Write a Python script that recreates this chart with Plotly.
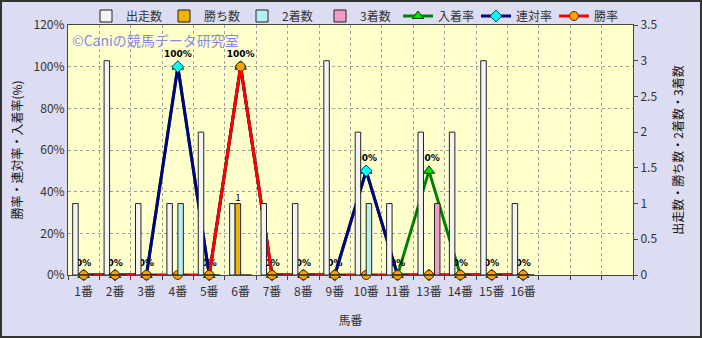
import plotly.graph_objects as go

# ---- data ----
categories = ["1番", "2番", "3番", "4番", "5番", "6番", "7番", "8番",
              "9番", "10番", "11番", "13番", "14番", "15番", "16番"]
padding_categories = [" ", "  ", "   "]
starts = [1, 3, 1, 1, 2, 1, 1, 1, 3, 2, 1, 2, 2, 3, 1]          # 出走数
wins = [0, 0, 0, 0, 0, 1, 0, 0, 0, 0, 0, 0, 0, 0, 0]            # 勝ち数
seconds = [0, 0, 0, 1, 0, 0, 0, 0, 0, 1, 0, 0, 0, 0, 0]         # 2着数
thirds = [0, 0, 0, 0, 0, 0, 0, 0, 0, 0, 0, 1, 0, 0, 0]          # 3着数
place_rate = [0, 0, 0, 100, 0, 100, 0, 0, 0, 50, 0, 50, 0, 0, 0]  # 入着率
quinella_rate = [0, 0, 0, 100, 0, 100, 0, 0, 0, 50, 0, 0, 0, 0, 0]  # 連対率
win_rate = [0, 0, 0, 0, 0, 100, 0, 0, 0, 0, 0, 0, 0, 0, 0]     # 勝率

FONT = "Noto Sans CJK JP"
fig = go.Figure()

bar_style = dict(marker_line_color="#222222", marker_line_width=1, yaxis="y2")
fig.add_trace(go.Bar(name="出走数", x=categories, y=starts,
                     marker_color="#f4f4f4", **bar_style))
fig.add_trace(go.Bar(name="勝ち数", x=categories, y=wins,
                     marker_color="#f0b400",
                     text=[str(v) if v else "" for v in wins],
                     textposition="outside", cliponaxis=False,
                     textfont=dict(size=11, color="#000000", family=FONT),
                     **bar_style))
fig.add_trace(go.Bar(name="2着数", x=categories, y=seconds,
                     marker_color="#b8eef0", **bar_style))
fig.add_trace(go.Bar(name="3着数", x=categories, y=thirds,
                     marker_color="#f09cc8", **bar_style))

fig.add_trace(go.Scatter(name="入着率", x=categories, y=place_rate,
                         mode="lines+markers+text",
                         line=dict(color="#008000", width=3),
                         marker=dict(symbol="triangle-up", size=10, color="#00e000",
                                     line=dict(color="#004000", width=1)),
                         text=[f"{v}%" for v in place_rate],
                         textposition="top center",
                         textfont=dict(size=9, color="#000000", family="DejaVu Sans",
                                       weight="bold"),
                         cliponaxis=False))
fig.add_trace(go.Scatter(name="連対率", x=categories, y=quinella_rate,
                         mode="lines+markers",
                         line=dict(color="#000080", width=3),
                         marker=dict(symbol="diamond", size=9, color="#00ffff",
                                     line=dict(color="#004040", width=1)),
                         cliponaxis=False))
fig.add_trace(go.Scatter(name="勝率", x=categories, y=win_rate,
                         mode="lines+markers",
                         line=dict(color="#ff0000", width=3),
                         marker=dict(symbol="circle", size=9, color="#ffa000",
                                     line=dict(color="#503000", width=1)),
                         cliponaxis=False))

W, H = 702, 338
L, R, T, B = 68, 69, 25, 63
pw, ph = W - L - R, H - T - B

fig.update_layout(
    width=W, height=H,
    margin=dict(l=L, r=R, t=T, b=B, autoexpand=False),
    paper_bgcolor="#dcdcf2",
    plot_bgcolor="#ffffcc",
    font=dict(family=FONT, size=12, color="#333333"),
    barmode="group", bargap=0.3, bargroupgap=0,
    showlegend=True,
    legend=dict(orientation="h", x=(86 - L) / pw, xanchor="left",
                y=1 + (T - 16) / ph, yanchor="middle",
                bgcolor="rgba(0,0,0,0)", entrywidth=33,
                font=dict(size=12, color="#333333", family=FONT),
                traceorder="normal", itemwidth=30),
    xaxis=dict(type="category", categoryorder="array",
               categoryarray=categories + padding_categories,
               range=[-0.5, len(categories) + len(padding_categories) - 0.5],
               tickson="boundaries", ticks="outside", ticklen=4, tickcolor="#444",
               tickangle=0, ticklabelstandoff=6,
               showgrid=True, gridcolor="#a0a0a0", griddash="dot", gridwidth=1,
               showline=True, linecolor="#444444", linewidth=1, mirror=True,
               title=dict(text="馬番", font=dict(size=12, color="#333333"), standoff=18),
               tickfont=dict(size=12, color="#333333")),
    yaxis=dict(range=[0, 120], dtick=20, ticksuffix="%",
               showgrid=True, gridcolor="#a0a0a0", griddash="dot", gridwidth=1,
               zeroline=False, showline=True, linecolor="#444444", linewidth=1,
               ticks="", tickfont=dict(size=12, color="#333333"),
               title=dict(text="勝率・連対率・入着率(%)",
                          font=dict(size=12, color="#111111"), standoff=8)),
    yaxis2=dict(range=[0, 3.5], dtick=0.5, overlaying="y", side="right",
                showgrid=False, zeroline=False, showline=True,
                linecolor="#444444", linewidth=1, ticks="outside", ticklen=4,
                tickcolor="#444444", tickfont=dict(size=12, color="#333333"),
                title=dict(text="出走数・勝ち数・2着数・3着数",
                           font=dict(size=12, color="#111111"), standoff=18)),
    annotations=[dict(text="©Caniの競馬データ研究室", xref="paper", yref="paper",
                      x=(70 - L) / pw, y=1 - (40 - T) / ph, xanchor="left",
                      yanchor="middle", showarrow=False,
                      font=dict(size=14, color="#8888e8", family=FONT))],
    shapes=[dict(type="rect", xref="paper", yref="paper",
                 x0=-(L - 1) / pw, x1=1 + (R - 1) / pw,
                 y0=-(B - 1) / ph, y1=1 + (T - 1) / ph,
                 line=dict(color="#333333", width=2), layer="above")],
)

fig.write_html("out.html")
